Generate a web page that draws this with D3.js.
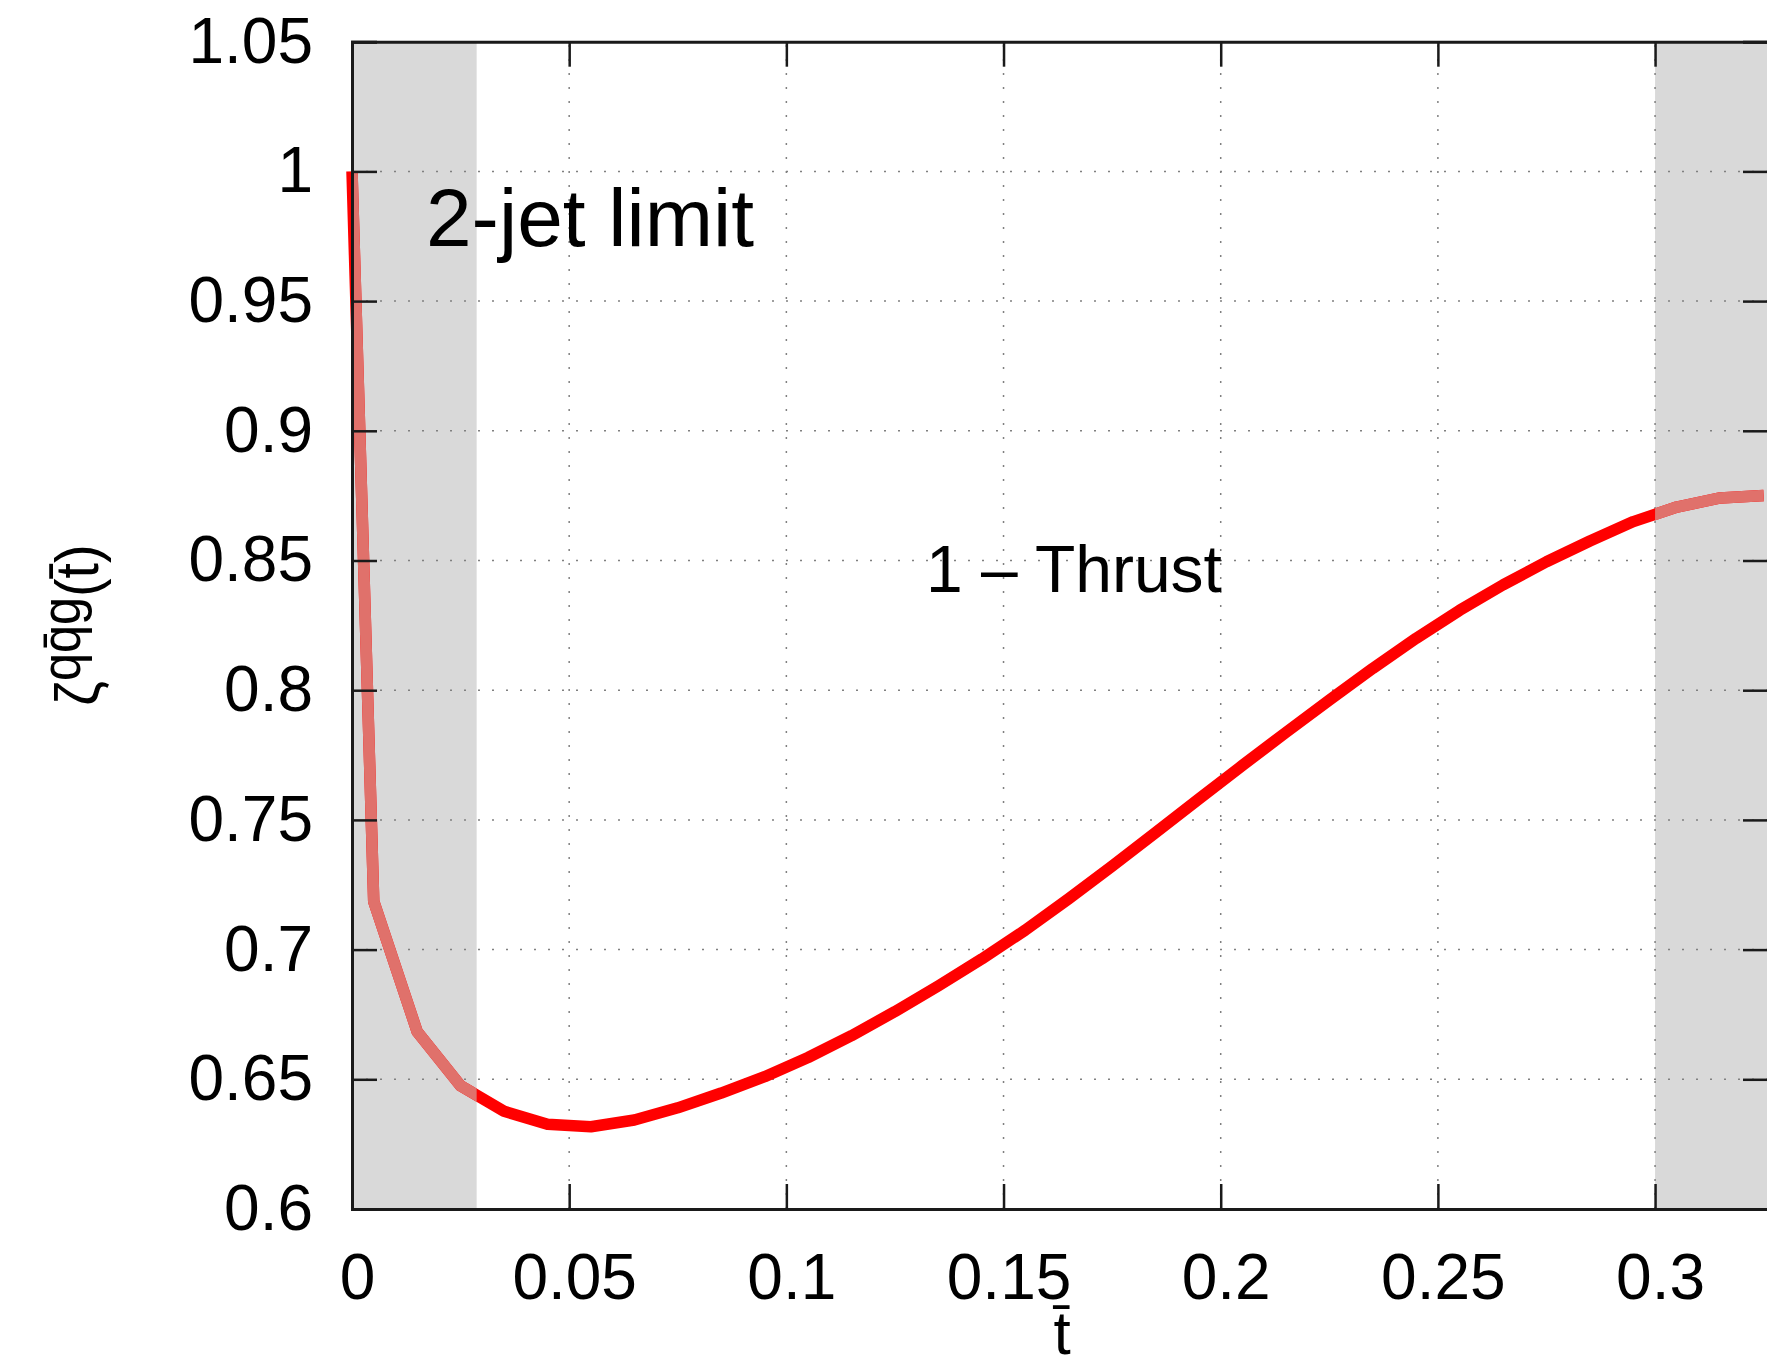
<!DOCTYPE html>
<html>
<head>
<meta charset="utf-8">
<script src="https://cdn.jsdelivr.net/npm/d3@7"></script>
<style>
  body { margin: 0; background: #fff; }
  svg text { font-family: "Liberation Sans", Arial, sans-serif; fill: #000; }
</style>
</head>
<body>
<script>
// chart values
var tValues = [0, 0.005, 0.015, 0.025, 0.035, 0.045, 0.055, 0.065, 0.075, 0.085, 0.095,
  0.105, 0.115, 0.125, 0.135, 0.145, 0.155, 0.165, 0.175, 0.185, 0.195,
  0.205, 0.215, 0.225, 0.235, 0.245, 0.255, 0.265, 0.275, 0.285, 0.295,
  0.305, 0.315, 0.325];
var zetaValues = [1.0, 0.7186, 0.6684, 0.6475, 0.6377, 0.6327, 0.6317, 0.6343, 0.6390, 0.6447, 0.6510,
  0.6584, 0.6668, 0.6761, 0.6860, 0.6964, 0.7075, 0.7196, 0.7322, 0.7451, 0.7581,
  0.7710, 0.7837, 0.7962, 0.8084, 0.8200, 0.8308, 0.8406, 0.8495, 0.8575, 0.8650,
  0.8706, 0.8741, 0.8751];
var xTicks = [0, 0.05, 0.1, 0.15, 0.2, 0.25, 0.3];
var yTicks = [0.6, 0.65, 0.7, 0.75, 0.8, 0.85, 0.9, 0.95, 1, 1.05];
var bands = [[0, 0.0287], [0.3, 0.326]];

var width = 1767,
  height = 1366;

var svg = d3.select("body").append("svg")
  .attr("width", width)
  .attr("height", height);

var x = d3.scaleLinear().domain([0, 0.326]).range([352, 1768]);
var y = d3.scaleLinear().domain([0.6, 1.05]).range([1209, 41.7]);

// shaded regions
svg.append("g").selectAll("rect")
  .data(bands)
  .enter().append("rect")
  .attr("x", d => x(d[0]))
  .attr("y", y(1.05))
  .attr("width", d => x(d[1]) - x(d[0]))
  .attr("height", y(0.6) - y(1.05))
  .attr("fill", "#d9d9d9");

// dotted grid
var grid = svg.append("g")
  .attr("stroke", "#808080")
  .attr("stroke-width", 1.5)
  .attr("stroke-dasharray", "2,12");

grid.selectAll(".gx")
  .data(xTicks.slice(1))
  .enter().append("line")
  .attr("x1", d => x(d)).attr("x2", d => x(d))
  .attr("y1", y(0.6)).attr("y2", y(1.05));

grid.selectAll(".gy")
  .data(yTicks.slice(1, -1))
  .enter().append("line")
  .attr("y1", d => y(d)).attr("y2", d => y(d))
  .attr("x1", x(0)).attr("x2", x(0.326));

// curve
var pts = tValues.map((t, i) => [t, zetaValues[i]]);
var line = d3.line()
  .x(d => x(d[0]))
  .y(d => y(d[1]));

var defs = svg.append("defs");
var clip = defs.append("clipPath").attr("id", "bandclip");
clip.selectAll("rect")
  .data(bands)
  .enter().append("rect")
  .attr("x", d => x(d[0]))
  .attr("y", 0)
  .attr("width", d => x(d[1]) - x(d[0]))
  .attr("height", height);

svg.append("path")
  .datum(pts)
  .attr("fill", "none")
  .attr("stroke", "#ff0000")
  .attr("stroke-width", 11.5)
  .attr("stroke-linejoin", "round")
  .attr("d", line);

svg.append("path")
  .datum(pts)
  .attr("clip-path", "url(#bandclip)")
  .attr("fill", "none")
  .attr("stroke", "#e0716b")
  .attr("stroke-width", 11.5)
  .attr("stroke-linejoin", "round")
  .attr("d", line);

// axes
var fmt = d => String(+d.toFixed(2));

var xAxis = svg.append("g")
  .attr("transform", "translate(0," + y(0.6) + ")")
  .call(d3.axisBottom(x).tickValues(xTicks).tickFormat(fmt).tickSize(-25).tickPadding(45));

var xAxisTop = svg.append("g")
  .attr("transform", "translate(0," + y(1.05) + ")")
  .call(d3.axisTop(x).tickValues(xTicks).tickFormat("").tickSize(-25));

var yAxis = svg.append("g")
  .attr("transform", "translate(" + x(0) + ",0)")
  .call(d3.axisLeft(y).tickValues(yTicks).tickFormat(fmt).tickSize(-25).tickPadding(39));

var yAxisRight = svg.append("g")
  .attr("transform", "translate(" + x(0.326) + ",0)")
  .call(d3.axisRight(y).tickValues(yTicks).tickFormat("").tickSize(-25));

svg.selectAll(".domain")
  .attr("stroke", "#1a1a1a")
  .attr("stroke-width", 3);
svg.selectAll(".tick line")
  .attr("stroke", "#1a1a1a")
  .attr("stroke-width", 2.5);
svg.selectAll(".tick text")
  .attr("font-family", "Liberation Sans, Arial, sans-serif")
  .attr("font-size", 64)
  .attr("fill", "#000");
xAxis.selectAll(".tick text").attr("dx", 5);

// axis titles
svg.append("text")
  .attr("x", 1062)
  .attr("y", 1354)
  .attr("text-anchor", "middle")
  .attr("font-size", 62)
  .text("t\u0304");

var ylab = svg.append("text")
  .attr("transform", "translate(98,625) rotate(-90) scale(0.9,1)")
  .attr("text-anchor", "middle")
  .attr("font-size", 62);
ylab.append("tspan").text("\u03b6");
ylab.append("tspan")
  .attr("dy", -18)
  .attr("font-size", 56)
  .text("qq\u0304g");
ylab.append("tspan")
  .attr("dy", 18)
  .text("(t\u0304)");

// annotations
svg.append("text")
  .attr("x", 426)
  .attr("y", 246)
  .attr("font-size", 82)
  .text("2-jet limit");

svg.append("text")
  .attr("x", 926)
  .attr("y", 592)
  .attr("font-size", 66)
  .text("1 \u2013 Thrust");
</script>
</body>
</html>
